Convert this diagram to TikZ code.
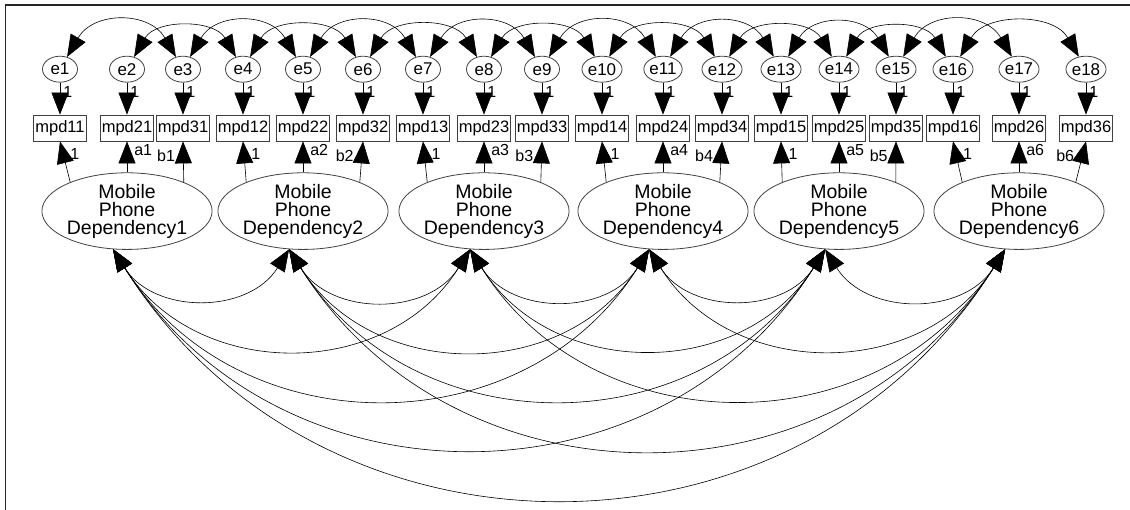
\documentclass[tikz,border=0pt]{standalone}
\usepackage{fontspec}
\setmainfont{Liberation Sans}
\usetikzlibrary{arrows.meta,positioning,shapes.geometric}

\begin{document}
\begin{tikzpicture}[
  x=1pt, y=1pt,
  obs/.style={rectangle, draw=black!75, line width=0.8pt, minimum width=53pt,
    minimum height=26pt, inner sep=1pt, font=\fontsize{16.5}{18}\selectfont},
  err/.style={ellipse, draw=black!75, line width=0.8pt, minimum width=35pt,
    minimum height=26pt, inner sep=0pt, font=\fontsize{17}{18}\selectfont},
  latent/.style={ellipse, draw=black!75, line width=0.8pt, minimum width=153pt,
    minimum height=75pt, inner sep=0pt, align=center,
    font=\fontsize{19.5}{18}\selectfont},
  regr/.style={-{Triangle[length=22pt, width=17pt]}, line width=0.6pt},
  cov/.style={{Triangle[length=22pt, width=17pt]}-{Triangle[length=22pt, width=17pt]},
    line width=0.6pt},
  coef/.style={font=\fontsize{16}{17}\selectfont, inner sep=0pt},
]
  \useasboundingbox (0,0) rectangle (1130,-510);
  \draw[line width=1.5pt, black!85] (1130,-5) -- (5.5,-5) -- (5.5,-510);

  % observed items
  \node[obs] (mpd11) at (60,-128) {mpd11};
  \node[obs] (mpd21) at (127,-128) {mpd21};
  \node[obs] (mpd31) at (183,-128) {mpd31};
  \node[obs] (mpd12) at (243,-128) {mpd12};
  \node[obs] (mpd22) at (303,-128) {mpd22};
  \node[obs] (mpd32) at (363,-128) {mpd32};
  \node[obs] (mpd13) at (423,-128) {mpd13};
  \node[obs] (mpd23) at (484,-128) {mpd23};
  \node[obs] (mpd33) at (542,-128) {mpd33};
  \node[obs] (mpd14) at (602,-128) {mpd14};
  \node[obs] (mpd24) at (663,-128) {mpd24};
  \node[obs] (mpd34) at (722,-128) {mpd34};
  \node[obs] (mpd15) at (781,-128) {mpd15};
  \node[obs] (mpd25) at (839,-128) {mpd25};
  \node[obs] (mpd35) at (896,-128) {mpd35};
  \node[obs] (mpd16) at (953,-128) {mpd16};
  \node[obs] (mpd26) at (1019,-128) {mpd26};
  \node[obs] (mpd36) at (1086,-128) {mpd36};

  % error terms
  \node[err, above=32pt of mpd11] (e1) {e1};
  \node[err, above=32pt of mpd21] (e2) {e2};
  \node[err, above=32pt of mpd31] (e3) {e3};
  \node[err, above=32pt of mpd12] (e4) {e4};
  \node[err, above=32pt of mpd22] (e5) {e5};
  \node[err, above=32pt of mpd32] (e6) {e6};
  \node[err, above=32pt of mpd13] (e7) {e7};
  \node[err, above=32pt of mpd23] (e8) {e8};
  \node[err, above=32pt of mpd33] (e9) {e9};
  \node[err, above=32pt of mpd14] (e10) {e10};
  \node[err, above=32pt of mpd24] (e11) {e11};
  \node[err, above=32pt of mpd34] (e12) {e12};
  \node[err, above=32pt of mpd15] (e13) {e13};
  \node[err, above=32pt of mpd25] (e14) {e14};
  \node[err, above=32pt of mpd35] (e15) {e15};
  \node[err, above=32pt of mpd16] (e16) {e16};
  \node[err, above=32pt of mpd26] (e17) {e17};
  \node[err, above=32pt of mpd36] (e18) {e18};

  % latent factors
  \node[latent, below=31pt of mpd21] (lv1) {Mobile\\Phone\\Dependency1};
  \node[latent, below=31pt of mpd22] (lv2) {Mobile\\Phone\\Dependency2};
  \node[latent, below=31pt of mpd23] (lv3) {Mobile\\Phone\\Dependency3};
  \node[latent, below=31pt of mpd24] (lv4) {Mobile\\Phone\\Dependency4};
  \node[latent, below=31pt of mpd25] (lv5) {Mobile\\Phone\\Dependency5};
  \node[latent, below=31pt of mpd26] (lv6) {Mobile\\Phone\\Dependency6};

  \foreach \k/\b in {1/mpd11, 2/mpd21, 3/mpd31, 4/mpd12, 5/mpd22, 6/mpd32,
      7/mpd13, 8/mpd23, 9/mpd33, 10/mpd14, 11/mpd24, 12/mpd34,
      13/mpd15, 14/mpd25, 15/mpd35, 16/mpd16, 17/mpd26, 18/mpd36}
    \draw[regr] (e\k) -- node[coef, pos=0.3, right=3pt] {1} (\b);

  \foreach \t in {1,...,6} {
    \draw[regr] (lv\t.153) -- node[coef, pos=0.7, right=7pt] {1} (mpd1\t.south);
    \draw[regr] (lv\t) -- node[coef, pos=0.72, right=7pt] {a\t} (mpd2\t);
    \draw[regr] (lv\t.27) -- node[coef, pos=0.65, left=8pt] {b\t} (mpd3\t.south);
  }

  % error covariances
  \foreach \k [evaluate=\k as \j using int(\k+2)] in {1,3,...,15}
    \draw[cov] (e\k) to[out=60, in=120, looseness=1.25] (e\j);
  \foreach \k [evaluate=\k as \j using int(\k+2)] in {2,4,...,16}
    \draw[cov] (e\k) to[out=60, in=120, looseness=1.1] (e\j);

  % factor covariances
  \foreach \i/\j in {1/2, 1/3, 1/4, 1/5, 1/6, 2/3, 2/4, 2/5, 2/6,
      3/4, 3/5, 3/6, 4/5, 4/6, 5/6}
    \draw[cov] (lv\i.250) to[out=-58, in=-122, looseness=1.12] (lv\j.250);
\end{tikzpicture}
\end{document}
